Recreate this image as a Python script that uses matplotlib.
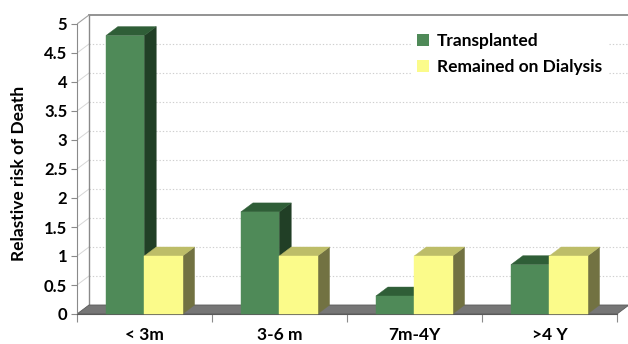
import matplotlib
matplotlib.use("Agg")
import matplotlib.pyplot as plt
from matplotlib.patches import Polygon, Patch
import numpy as np

categories = ["< 3m", "3-6 m", "7m-4Y", ">4 Y"]
transplanted = [4.8, 1.76, 0.31, 0.85]
dialysis = [1.0, 1.0, 1.0, 1.0]
series_names = ["Transplanted", "Remained on Dialysis"]
yticks = [0, 0.5, 1, 1.5, 2, 2.5, 3, 3.5, 4, 4.5, 5]
ytick_labels = ["0", "0.5", "1", "1.5", "2", "2.5", "3", "3.5", "4", "4.5", "5"]

plt.rcParams['font.family'] = ['Lato', 'DejaVu Sans']

W, H = 628, 344
fig = plt.figure(figsize=(W / 100, H / 100), dpi=100)
ax = fig.add_axes([77 / W, 22 / H, 551 / W, 314 / H])
ax.set_xlim(0, 551 / 135)
ax.set_ylim(-8 / 58, 306 / 58)

ddx = 12 / 135
ddy = 9 / 58

# back wall gridlines
for v in yticks[1:-1]:
    ax.plot([ddx, 4 + ddx], [v + ddy, v + ddy], color="#cfcfcf", lw=0.8, ls=(0, (1.2, 1.8)), zorder=1)
    ax.plot([0, ddx], [v, v + ddy], color="#d6d6d6", lw=0.7, zorder=1)
# back wall top and left edges
ax.plot([ddx, 4 + ddx + 0.2], [5 + ddy, 5 + ddy], color="#8a8a8a", lw=1.3, zorder=1)
ax.plot([ddx, ddx], [ddy, 5 + ddy], color="#8a8a8a", lw=1.0, zorder=1)
ax.plot([0, ddx], [5, 5 + ddy], color="#a0a0a0", lw=0.8, zorder=1)

# floor
ax.add_patch(Polygon([(0, 0), (4, 0), (4 + ddx, ddy), (ddx, ddy)], closed=True,
                     facecolor="#767676", edgecolor="#5a5a5a", lw=0.6, zorder=2))

x = np.arange(len(categories))
bw = 0.284
off_g = 0.356
off_y = 0.640

colors = {
    0: ("#4f8a58", "#2f5e37", "#213f26"),
    1: ("#fbfb8a", "#bdbd68", "#727242"),
}

for i in range(len(categories)):
    for s, (vals, off) in enumerate([(transplanted, off_g), (dialysis, off_y)]):
        front, top, side = colors[s]
        v = vals[i]
        x0 = x[i] + off - bw / 2
        x1 = x[i] + off + bw / 2
        z = 3 + i * 2 + s * 0.5
        ax.add_patch(Polygon([(x1, 0), (x1 + ddx, ddy), (x1 + ddx, v + ddy), (x1, v)],
                             closed=True, facecolor=side, edgecolor=side, lw=0.3, zorder=z))
        ax.add_patch(Polygon([(x0, v), (x1, v), (x1 + ddx, v + ddy), (x0 + ddx, v + ddy)],
                             closed=True, facecolor=top, edgecolor=top, lw=0.3, zorder=z))
        ax.bar(x[i] + off, v, width=bw, color=front, edgecolor=front, lw=0.3, zorder=z + 0.1)

# axes styling
for sp in ["top", "right"]:
    ax.spines[sp].set_visible(False)
ax.spines["left"].set_bounds(0, 5)
ax.spines["left"].set_color("#8a8a8a")
ax.spines["bottom"].set_position(("data", 0))
ax.spines["bottom"].set_bounds(0, 4)
ax.spines["bottom"].set_color("#5a5a5a")

ax.set_yticks(yticks)
ax.set_yticklabels(ytick_labels, fontsize=12, fontweight="bold")
ax.tick_params(axis="y", direction="out", length=4, color="#8a8a8a", pad=3)

ax.set_xticks([0, 1, 2, 3, 4])
ax.set_xticklabels([""] * 5)
ax.set_xticks(x + 0.5, minor=True)
ax.set_xticklabels(categories, minor=True, fontsize=12.5, fontweight="bold")
ax.tick_params(axis="x", which="major", direction="out", length=6, color="#8a8a8a")
ax.tick_params(axis="x", which="minor", length=0, pad=9)

fig.text(19 / W, 1 - 173 / H, "Relastive risk of Death", rotation=90, ha="center", va="center",
         fontsize=12.5, fontweight="bold")

handles = [Patch(facecolor=colors[0][0]), Patch(facecolor=colors[1][0])]
leg = fig.legend(handles, series_names, loc="upper left", bbox_to_anchor=(403 / W, 1 - 19 / H),
                 frameon=True, facecolor="white", edgecolor="white", framealpha=1,
                 handlelength=0.7, handleheight=0.7, handletextpad=0.45, labelspacing=0.6,
                 borderpad=0.3, prop={"size": 12.5, "weight": "bold"})
leg.set_zorder(20)

fig.savefig("out.png", dpi=100)
